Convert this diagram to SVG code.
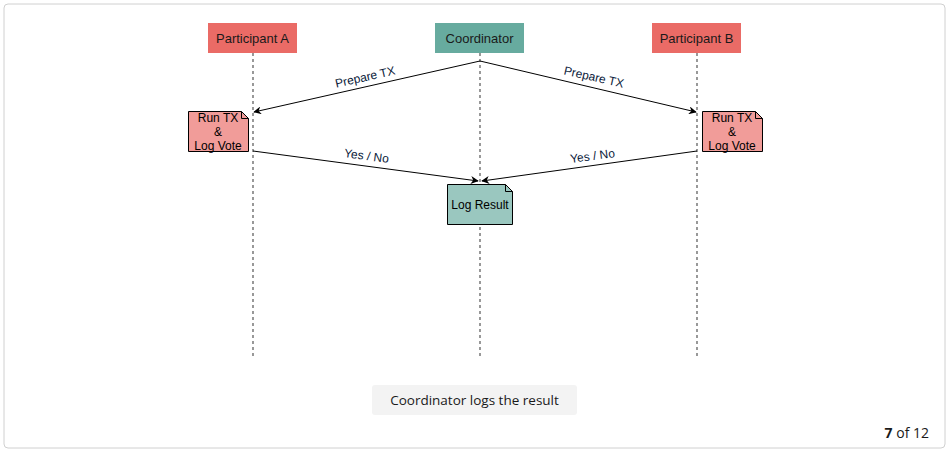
<svg xmlns="http://www.w3.org/2000/svg" width="950" height="452" viewBox="0 0 950 452">
<defs>
<marker id="arr" viewBox="0 0 10 10" refX="9" refY="5" markerWidth="8" markerHeight="8" orient="auto" markerUnits="userSpaceOnUse">
<path d="M0,0 L10,5 L0,10 L3,5 Z" fill="#000"/>
</marker>
<style>
.hdr text{font-family:"Liberation Sans",Arial,sans-serif;font-size:13px;fill:#1a1a1a;text-anchor:middle}
.life{stroke:#555;stroke-width:1.2;stroke-dasharray:3,3;fill:none}
.msg{stroke:#000;stroke-width:1;fill:none;marker-end:url(#arr)}
.lbl{font-family:"Liberation Sans",Arial,sans-serif;font-size:12px;fill:#0a1a3a;text-anchor:middle}
.note{stroke:#000;stroke-width:1}
.ntxt{font-family:"Liberation Sans",Arial,sans-serif;font-size:12px;fill:#000;text-anchor:middle}
</style>
</defs>
<rect x="4" y="4" width="941" height="444" rx="4" fill="#fff" stroke="#d0d0d0"/>
<g id="connectors">
<line class="life" x1="253" y1="53" x2="253" y2="358"/>
<line class="life" x1="480" y1="53" x2="480" y2="358"/>
<line class="life" x1="697" y1="53" x2="697" y2="358"/>
<line class="msg" x1="480" y1="61" x2="254" y2="112"/>
<line class="msg" x1="480" y1="61" x2="696" y2="112"/>
<line class="msg" x1="253" y1="151" x2="478" y2="181"/>
<line class="msg" x1="697" y1="151" x2="482" y2="181"/>
<text class="lbl" transform="translate(366,81) rotate(-12.7)">Prepare TX</text>
<text class="lbl" transform="translate(593,81) rotate(12.7)">Prepare TX</text>
<text class="lbl" transform="translate(366,160) rotate(7.5)">Yes / No</text>
<text class="lbl" transform="translate(593,160) rotate(-7.5)">Yes / No</text>
</g>
<g id="participantA" class="hdr">
<rect x="208" y="23" width="89" height="30" fill="#ea6b66"/>
<text x="252.5" y="43">Participant A</text>
</g>
<g id="coordinator" class="hdr">
<rect x="435" y="23" width="89" height="30" fill="#67ab9f"/>
<text x="479.5" y="43">Coordinator</text>
</g>
<g id="participantB" class="hdr">
<rect x="652" y="23" width="89" height="30" fill="#ea6b66"/>
<text x="696.5" y="43">Participant B</text>
</g>
<g id="noteA">
<path class="note" d="M188.5,111.5 H241.5 L248.5,118.5 V151.5 H188.5 Z" fill="#f19c99"/>
<path d="M241.5,111.5 V118.5 H248.5" fill="none" stroke="#000"/>
<text class="ntxt" x="218" y="122">Run TX</text>
<text class="ntxt" x="218" y="136">&amp;</text>
<text class="ntxt" x="218" y="150">Log Vote</text>
</g>
<g id="noteB">
<path class="note" d="M702.5,111.5 H755.5 L762.5,118.5 V151.5 H702.5 Z" fill="#f19c99"/>
<path d="M755.5,111.5 V118.5 H762.5" fill="none" stroke="#000"/>
<text class="ntxt" x="732" y="122">Run TX</text>
<text class="ntxt" x="732" y="136">&amp;</text>
<text class="ntxt" x="732" y="150">Log Vote</text>
</g>
<g id="logResult">
<path class="note" d="M447.5,184.5 H505.5 L512.5,191.5 V224.5 H447.5 Z" fill="#9ac7bf"/>
<path d="M505.5,184.5 V191.5 H512.5" fill="none" stroke="#000"/>
<text class="ntxt" x="480" y="209">Log Result</text>
</g>
<g id="caption">
<rect x="372" y="385" width="205" height="30" rx="3" fill="#f3f3f3"/>
<text x="474.5" y="405" font-family="'Open Sans','Noto Sans',sans-serif" font-size="13.5" fill="#1a1a1a" text-anchor="middle">Coordinator logs the result</text>
</g>
<g id="pager">
<text x="929" y="438" font-family="'Open Sans','Noto Sans',sans-serif" font-size="14" fill="#1a1a1a" text-anchor="end"><tspan font-weight="bold">7</tspan> of 12</text>
</g>
</svg>
